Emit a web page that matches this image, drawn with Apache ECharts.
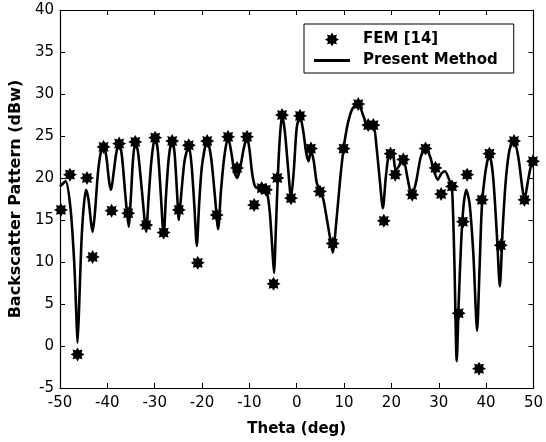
<!DOCTYPE html>
<html>
<head>
<meta charset="utf-8">
<script src="https://cdn.jsdelivr.net/npm/echarts@6/dist/echarts.min.js"></script>
<style>
    body{margin:0;background:#fff}
    #main{width:546px;height:442px}
</style>
</head>
<body>
<div id="main"></div>
<script>
// FEM [14] reference points (theta in deg, dBw)
var femTheta = [-49.8,-47.9,-46.3,-44.3,-43.1,-40.8,-39.1,-37.5,-35.6,-34.1,-31.8,-29.9,-28.1,-26.3,-24.9,-22.8,-20.9,-18.9,-16.9,-14.5,
    -12.6,-10.5,-9.0,-7.4,-6.5,-4.9,-4.1,-3.1,-1.2,0.7,3.0,4.9,7.6,9.9,13.0,15.1,16.2,18.4,19.8,20.8,
    22.5,24.4,27.2,29.3,30.5,32.8,34.2,35.1,36.0,38.5,39.1,40.7,43.1,45.9,48.1,49.9]
var femValue = [16.2,20.4,-1.0,20.0,10.6,23.7,16.1,24.1,15.8,24.3,14.4,24.8,13.5,24.4,16.2,23.9,9.9,24.4,15.6,24.9,
    21.2,24.9,16.8,18.8,18.6,7.4,20.0,27.5,17.6,27.4,23.5,18.4,12.2,23.5,28.8,26.3,26.3,14.9,22.9,20.4,
    22.2,18.0,23.5,21.2,18.1,19.0,3.9,14.8,20.4,-2.7,17.4,22.9,12.0,24.4,17.4,22.0]

// Present Method curve
var curveTheta = [-50.0,-48.8,-47.8,-47.0,-46.5,-46.3,-46.0,-45.5,-45.0,-44.5,-44.0,-43.4,-43.1,-42.6,-42.0,-41.4,-40.8,-40.2,-39.6,-39.2,
    -38.7,-38.1,-37.5,-36.9,-36.2,-35.5,-35.0,-34.6,-34.1,-33.5,-32.7,-31.8,-31.3,-30.7,-29.9,-29.3,-28.7,-28.1,-27.6,-27.0,
    -26.3,-25.8,-25.3,-24.9,-24.4,-23.7,-22.8,-22.2,-21.6,-21.1,-20.6,-20.0,-18.9,-18.1,-17.3,-16.6,-16.0,-15.3,-14.5,-13.8,
    -13.2,-12.6,-12.0,-11.2,-10.5,-10.0,-9.4,-8.8,-8.0,-7.2,-6.3,-5.7,-5.2,-4.8,-4.4,-4.0,-3.6,-3.1,-2.5,-1.8,
    -1.2,-0.6,0.0,0.7,1.4,2.0,2.5,3.0,3.6,4.2,4.9,5.6,6.4,7.0,7.6,8.4,9.2,9.9,10.8,11.8,
    13.0,14.0,15.1,16.2,16.8,17.5,18.2,18.8,19.5,20.2,20.9,21.7,22.5,23.4,24.3,25.2,26.2,27.2,28.2,29.0,
    29.8,30.5,31.3,32.2,32.8,33.3,33.8,34.2,34.7,35.2,35.8,36.5,37.3,38.1,38.6,39.1,39.8,40.7,41.5,42.3,
    42.9,43.5,44.2,45.0,45.9,46.8,47.6,48.1,48.8,49.5,50.0]
var curveValue = [19.0,19.6,16.5,10.0,3.0,0.4,4.0,12.0,16.5,18.6,17.5,14.5,13.6,16.0,20.5,23.0,23.9,22.5,19.5,18.6,
    20.5,23.0,24.3,22.5,18.0,14.2,18.0,22.0,24.4,23.0,18.5,13.6,17.5,22.0,25.1,23.0,18.0,13.1,18.0,22.5,
    24.6,23.0,18.5,15.0,18.0,22.0,23.9,21.5,16.5,11.9,17.0,21.5,24.5,22.5,18.0,13.9,18.5,22.5,24.9,23.0,
    20.8,20.0,21.0,23.5,24.9,23.5,20.5,19.0,18.8,18.7,18.3,16.0,12.0,8.7,14.0,20.0,24.5,27.5,25.5,21.0,
    17.6,21.0,26.0,27.4,25.5,23.0,22.0,23.3,22.0,19.5,18.4,17.5,15.0,13.0,11.1,15.0,20.0,23.5,26.5,28.3,
    28.9,27.5,26.2,26.2,24.0,20.0,16.4,20.0,23.0,23.2,20.9,21.5,22.3,20.0,17.8,19.5,22.5,23.5,22.5,20.8,
    19.8,20.5,20.8,19.8,18.8,10.0,-1.8,5.0,12.0,16.5,18.6,17.0,11.0,1.8,9.0,16.5,20.5,22.9,20.0,13.0,
    7.1,14.0,20.0,23.5,24.4,22.5,19.0,17.4,19.5,21.5,21.8]

var starPath = 'path://M10,0L12.4,4.2L17.07,2.93L15.8,7.6L20,10L15.8,12.4L17.07,17.07L12.4,15.8L10,20L7.6,15.8L2.93,17.07L4.2,12.4L0,10L4.2,7.6L2.93,2.93L7.6,4.2Z'
var barPath = 'path://M0,0H36V3H0Z'

function pairs(xs, ys){
    var out = []
    for (var i = 0; i < xs.length; i++) out.push([xs[i], ys[i]])
    return out
}

var myChart = echarts.init(document.getElementById('main'))

var tickStyle = {inside: true, length: 5, lineStyle: {color: '#000', width: 1}}
var lineStyle = {onZero: false, lineStyle: {color: '#000', width: 1.2}}
var labelStyle = {color: '#000', fontSize: 15, fontFamily: 'DejaVu Sans'}

var option = {
    backgroundColor: '#fff',
    animation: false,
    grid: {left: 56, right: 9, top: 10, bottom: 53},
    legend: {
        left: 304, top: 24,
        orient: 'vertical',
        padding: [8, 16, 5, 10],
        itemGap: 6,
        itemWidth: 36, itemHeight: 14,
        borderColor: '#000', borderWidth: 1,
        backgroundColor: '#fff',
        textStyle: {color: '#000', fontSize: 15, fontWeight: 'bold', fontFamily: 'DejaVu Sans', padding: [0, 0, 0, 8]},
        data: [{name: 'FEM [14]', itemStyle: {opacity: 1}}, {name: 'Present Method', icon: barPath}]
    },
    xAxis: [{
        type: 'value', min: -50, max: 50, interval: 10,
        axisLine: lineStyle, axisTick: tickStyle, splitLine: {show: false},
        axisLabel: Object.assign({margin: 8}, labelStyle),
        name: 'Theta (deg)', nameLocation: 'middle', nameGap: 34,
        nameTextStyle: {color: '#000', fontSize: 15, fontWeight: 'bold', fontFamily: 'DejaVu Sans'}
    }, {
        type: 'value', min: -50, max: 50, interval: 10, position: 'top',
        axisLine: lineStyle, axisTick: tickStyle, splitLine: {show: false}, axisLabel: {show: false}
    }],
    yAxis: [{
        type: 'value', min: -5, max: 40, interval: 5,
        axisLine: lineStyle, axisTick: tickStyle, splitLine: {show: false},
        axisLabel: Object.assign({margin: 6}, labelStyle),
        name: 'Backscatter Pattern (dBw)', nameLocation: 'middle', nameGap: 34,
        nameTextStyle: {color: '#000', fontSize: 16, fontWeight: 'bold', fontFamily: 'DejaVu Sans'}
    }, {
        type: 'value', min: -5, max: 40, interval: 5, position: 'right',
        axisLine: lineStyle, axisTick: tickStyle, splitLine: {show: false}, axisLabel: {show: false}
    }],
    series: [{
        name: 'FEM [14]',
        type: 'scatter',
        symbol: starPath,
        symbolSize: 14,
        itemStyle: {color: '#000', opacity: 1},
        data: pairs(femTheta, femValue),
        z: 3
    }, {
        name: 'Present Method',
        type: 'line',
        symbol: 'none',
        smooth: 0.25,
        lineStyle: {color: '#000', width: 2.6},
        itemStyle: {color: '#000'},
        data: pairs(curveTheta, curveValue),
        z: 2
    }]
}
myChart.setOption(option)
</script>
</body>
</html>
